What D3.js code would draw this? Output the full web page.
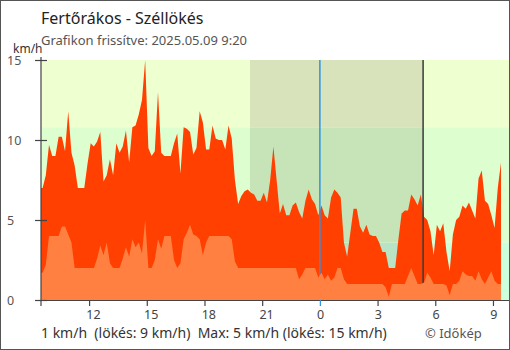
<!DOCTYPE html>
<html><head><meta charset="utf-8">
<script src="https://cdn.jsdelivr.net/npm/d3@7"></script>
<style>
html,body{margin:0;padding:0;background:#fff}
svg{display:block;font-family:"Noto Sans",sans-serif}
</style>
</head><body><svg id="c" width="510" height="350"></svg>
<script>
// ---- data (km/h), one value per 10 minutes starting 2025-05-08 09:30 ----
const gust = [
7.0,7.8,9.7,9.0,9.0,10.2,10.2,9.3,11.8,9.2,8.4,7.0,7.0,7.0,8.5,9.8,9.6,9.9,10.5,7.4,
7.8,8.8,7.8,9.8,9.2,9.6,10.6,8.6,10.8,10.9,11.6,12.5,15.0,9.5,9.0,9.3,13.0,9.2,9.0,9.0,
9.0,9.8,10.4,7.9,10.8,10.7,10.5,9.1,9.5,11.8,11.1,9.4,9.4,10.9,10.1,10.0,10.0,9.4,10.9,10.1,
7.5,6.0,6.5,6.8,6.9,6.7,6.6,6.2,6.2,6.7,6.1,7.5,9.6,7.5,5.4,6.0,5.3,5.3,5.9,6.1,
5.5,5.1,6.2,6.9,6.3,6.0,5.3,5.9,5.3,5.1,6.4,6.9,6.7,6.4,3.6,2.7,4.2,5.7,5.7,4.6,
4.2,4.7,4.1,4.0,4.0,3.6,3.0,3.0,2.0,2.0,2.0,3.8,5.4,5.6,5.6,6.6,6.3,5.9,6.6,5.2,
5.0,4.3,2.8,4.7,4.3,4.8,3.0,1.8,4.1,5.0,5.2,5.9,5.7,6.1,5.6,5.1,7.6,8.1,6.2,6.0,
5.3,4.5,7.0,8.6
];
const wind = [
1.7,2.2,4.0,4.0,4.0,4.0,4.6,4.6,4.1,3.6,2.0,2.0,2.0,2.0,2.0,2.0,2.0,2.6,3.4,2.8,
3.6,2.3,2.0,2.0,2.0,2.6,3.3,2.7,3.8,3.3,3.6,2.9,5.0,2.0,2.0,2.5,3.8,3.2,4.0,4.0,
4.0,2.5,2.0,2.3,3.8,4.2,4.7,4.1,4.0,3.8,2.8,3.6,4.0,4.0,4.0,4.0,4.0,4.0,4.0,3.8,
2.4,2.0,2.0,2.0,2.0,2.0,2.0,2.0,2.0,2.0,2.0,2.0,2.0,2.0,2.0,2.0,2.0,2.0,2.0,2.0,
1.3,1.6,2.0,2.0,2.0,2.0,1.4,1.7,1.3,1.6,1.2,1.4,2.0,2.0,1.3,1.0,1.0,1.0,1.0,1.0,
1.0,1.0,1.0,1.0,1.0,1.0,1.0,0.8,0.2,1.0,1.0,1.0,1.0,1.0,1.5,2.0,1.5,1.0,1.0,1.1,
1.7,1.4,1.0,1.0,1.0,1.0,0.9,0.3,1.0,1.0,1.2,1.8,1.6,1.5,1.5,1.2,1.8,1.3,1.0,1.4,
1.8,1.2,1.0,1.0
];
const yTicks = [0, 5, 10, 15];
const xTickHours = [12, 15, 18, 21, 0, 3, 6, 9];
const bandEdges = [0, 3.6, 10.8, 15];          // 1 m/s, 3 m/s thresholds
const titleText = "Fertőrákos - Széllökés";
const subtitleText = "Grafikon frissítve: 2025.05.09 9:20";
const summaryText = "1 km/h  (lökés: 9 km/h)  Max: 5 km/h (lökés: 15 km/h)";
const creditText = "© Időkép";
const startTime = new Date(2025, 4, 8, 9, 30);
const domainEnd = new Date(2025, 4, 9, 9, 50);
const sunset = new Date(2025, 4, 8, 20, 22);
const sunrise = new Date(2025, 4, 9, 5, 22);
const midnight = new Date(2025, 4, 9, 0, 0);

// ---- drawing ----
const svg = d3.select("#c");
svg.append("rect").attr("width", 510).attr("height", 350).attr("fill", "#fff");

const X0 = 41, X1 = 509, Y0 = 300, Y1 = 60;
const stepMs = 10 * 60 * 1000;
// each reading represents a 10-minute interval; plot it at the interval's centre
const series = gust.map((g, i) => ({t: new Date(+startTime + i * stepMs + stepMs / 2), g, w: wind[i]}));

const x = d3.scaleTime().domain([startTime, domainEnd]).range([X0, X1]);
const y = d3.scaleLinear().domain([0, 15]).range([Y0, Y1]);

const dayColors = ["#ccffdc", "#ddffd0", "#eeffd0"];
const nightColors = ["#b8e3c4", "#c6e4b8", "#d9e3bb"];
const bg = svg.append("g");
for (let k = 0; k < bandEdges.length - 1; k++) {
  bg.append("rect").attr("x", X0).attr("width", X1 - X0)
    .attr("y", y(bandEdges[k + 1])).attr("height", y(bandEdges[k]) - y(bandEdges[k + 1]))
    .attr("fill", dayColors[k]);
  bg.append("rect").attr("x", x(sunset)).attr("width", x(sunrise) - x(sunset))
    .attr("y", y(bandEdges[k + 1])).attr("height", y(bandEdges[k]) - y(bandEdges[k + 1]))
    .attr("fill", nightColors[k]);
}

const xs = d => Math.max(X0, x(d.t));
const areaG = d3.area().curve(d3.curveLinear).x(xs).y0(y(0)).y1(d => y(d.g));
const areaW = d3.area().curve(d3.curveLinear).x(xs).y0(y(0)).y1(d => y(d.w));
// extend first reading back to the start of its interval
const seriesFull = [{t: startTime, g: gust[0], w: wind[0]}, ...series];
svg.append("path").datum(seriesFull).attr("d", areaG).attr("fill", "#ff4000");

// marker lines (midnight, sunrise)
svg.append("line").attr("x1", x(midnight)).attr("x2", x(midnight)).attr("y1", Y1).attr("y2", Y0)
  .attr("stroke", "#2f93e4").attr("stroke-width", 1.5);
svg.append("line").attr("x1", x(sunrise)).attr("x2", x(sunrise)).attr("y1", Y1).attr("y2", Y0)
  .attr("stroke", "#3a3a3a").attr("stroke-width", 1.5);

svg.append("path").datum(seriesFull).attr("d", areaW).attr("fill", "#ff8040");

// x axis
const tickDates = xTickHours.map(h => h >= 10 ? new Date(2025, 4, 8, h) : new Date(2025, 4, 9, h));
const xAxis = d3.axisBottom(x).tickValues(tickDates).tickFormat(d3.timeFormat("%-H")).tickSize(6).tickSizeOuter(0);
const gx = svg.append("g").attr("transform", `translate(0,${Y0})`).call(xAxis);
gx.select(".domain").attr("stroke", "#444").attr("stroke-width", 1.2);
gx.selectAll(".tick line").attr("stroke", d => +d === +midnight ? "#2f93e4" : "#444").attr("stroke-width", 1.2);
gx.selectAll(".tick text").attr("text-anchor", "start").attr("x", -3.3).attr("y", 19.3).attr("dy", 0)
  .attr("fill", "#444").style("font-size", "12.5px").style("font-family", '"Noto Sans",sans-serif');

// y axis
const yAxis = d3.axisLeft(y).tickValues(yTicks).tickSize(12);
const gy = svg.append("g").attr("transform", `translate(${X0 + 6},0)`).call(yAxis);
gy.select(".domain").remove();
gy.selectAll(".tick line").attr("stroke", "#444").attr("stroke-width", 1.2);
gy.selectAll(".tick text").attr("text-anchor", "start").attr("x", 7 - (X0 + 6)).attr("dy", "0.38em")
  .attr("fill", "#555").style("font-size", "12.5px").style("font-family", '"Noto Sans",sans-serif');
svg.append("line").attr("x1", X0).attr("x2", X0).attr("y1", Y1 - 3).attr("y2", Y0 + 6)
  .attr("stroke", "#444").attr("stroke-width", 1.2);

// texts
svg.append("text").attr("x", 13).attr("y", 53).text("km/h")
  .attr("fill", "#333").style("font-size", "12px");
svg.append("text").attr("x", 41).attr("y", 24).text(titleText)
  .attr("fill", "#222").style("font-size", "16px");
svg.append("text").attr("x", 41).attr("y", 45).text(subtitleText)
  .attr("fill", "#555").style("font-size", "13px");
svg.append("text").attr("x", 41).attr("y", 338).text(summaryText)
  .attr("fill", "#333").style("font-size", "14px").style("white-space", "pre");
svg.append("text").attr("x", 425).attr("y", 338).text(creditText)
  .attr("fill", "#555").style("font-size", "13px");

// frame
svg.append("rect").attr("x", 0.5).attr("y", 0.5).attr("width", 509).attr("height", 349)
  .attr("fill", "none").attr("stroke", "#555").attr("stroke-width", 1);
</script>
</body></html>
